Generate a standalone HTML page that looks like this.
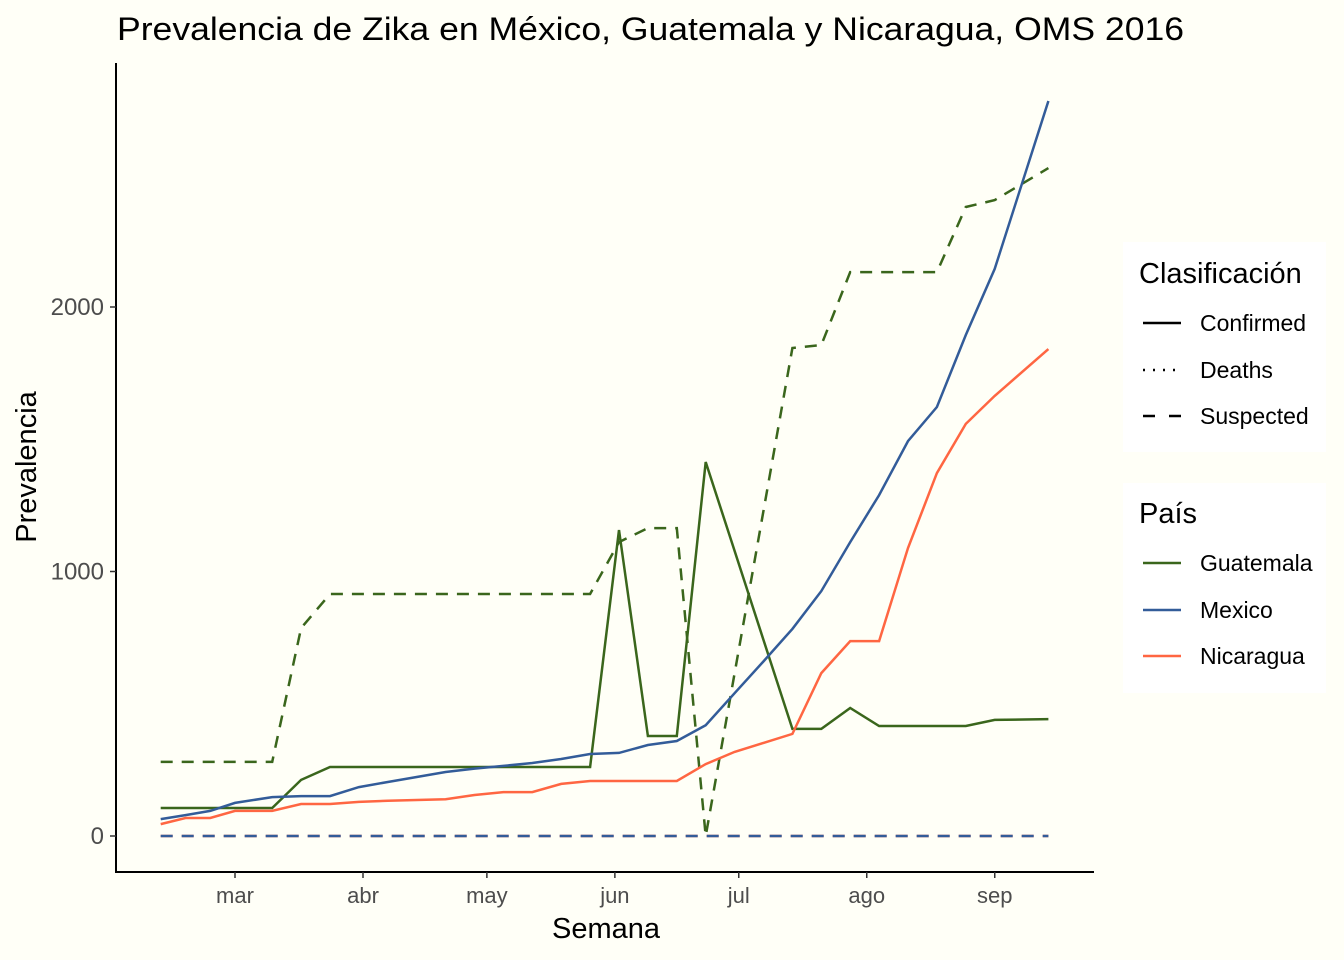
<!DOCTYPE html>
<html><head><meta charset="utf-8">
<style>
html,body{margin:0;padding:0;background:#fffff7;}
svg{display:block;font-family:"Liberation Sans",sans-serif;}
</style></head>
<body>
<svg id="chart" width="1344" height="960" viewBox="0 0 1344 960">
<rect width="1344" height="960" fill="#fffff7"/>
<text x="117" y="40" font-size="32" textLength="1067" lengthAdjust="spacingAndGlyphs" fill="#000">Prevalencia de Zika en México, Guatemala y Nicaragua, OMS 2016</text>
<g id="plot"></g>
<line x1="116" y1="63" x2="116" y2="873" stroke="#000" stroke-width="2"/>
<line x1="116" y1="872" x2="1094" y2="872" stroke="#000" stroke-width="2"/>
<g id="yticks"></g>
<g id="xticks"></g>
<text x="606" y="938" font-size="29" text-anchor="middle">Semana</text>
<text transform="translate(36,467) rotate(-90)" font-size="29" text-anchor="middle">Prevalencia</text>
<g>
<rect x="1123" y="242" width="203" height="210" fill="#ffffff"/>
<text x="1139" y="283" font-size="29">Clasificación</text>
<g><line x1="1143" y1="323" x2="1181" y2="323" stroke="#000" stroke-width="2.5"/><text x="1200" y="331" font-size="23">Confirmed</text></g>
<g><line x1="1143" y1="370" x2="1181" y2="370" stroke="#000" stroke-width="2.5" stroke-dasharray="2,8"/><text x="1200" y="378" font-size="23">Deaths</text></g>
<g><line x1="1143" y1="416" x2="1181" y2="416" stroke="#000" stroke-width="2.5" stroke-dasharray="12,14"/><text x="1200" y="424" font-size="23">Suspected</text></g>
</g>
<g>
<rect x="1123" y="483" width="203" height="210" fill="#ffffff"/>
<text x="1139" y="523" font-size="29">País</text>
<g><line x1="1143" y1="563" x2="1181" y2="563" stroke="#3a661c" stroke-width="2.5"/><text x="1200" y="571" font-size="23">Guatemala</text></g>
<g><line x1="1143" y1="610" x2="1181" y2="610" stroke="#335c99" stroke-width="2.5"/><text x="1200" y="618" font-size="23">Mexico</text></g>
<g><line x1="1143" y1="656" x2="1181" y2="656" stroke="#ff6642" stroke-width="2.5"/><text x="1200" y="664" font-size="23">Nicaragua</text></g>
</g>
</svg>
<script>
// days offset from 1 March 2016
const days = [-18,-12,-6,0,9,16,23,30,37,44,51,58,65,72,79,86,93,100,107,114,121,128,135,142,149,156,163,170,177,184,197];
const guatConfirmed = [106,106,106,106,106,212,261,261,261,261,261,261,261,261,261,261,1157,378,378,1414,1078,741,405,405,484,416,416,416,416,439,442];
const guatSuspected = [280,280,280,280,280,786,915,915,915,915,915,915,915,915,915,915,1111,1164,1164,0,615,1230,1845,1856,2132,2132,2132,2132,2378,2404,2525];
const mexConfirmed = [64,79,95,125,147,151,151,185,204,223,242,255,265,276,291,310,314,344,359,419,540,660,783,926,1111,1289,1493,1622,1894,2144,2779];
const nicConfirmed = [45,68,68,95,95,121,121,129,133,136,139,155,166,166,197,208,208,208,208,272,318,352,386,616,737,737,1089,1372,1558,1664,1841];
const zeros = days.map(() => 0);
const yTicks = [0,1000,2000];
const xTickLabels = ['mar','abr','may','jun','jul','ago','sep'];
const xTickDays = [0,31,61,92,122,153,184];

const NS = 'http://www.w3.org/2000/svg';
function xScale(d){ return 235 + d * 128 / 31; }
function yScale(v){ return 836 - v * 0.2645; }

const plot = document.getElementById('plot');
function drawLine(vals, color, dash, name){
  const p = document.createElementNS(NS,'polyline');
  p.setAttribute('points', days.map((d,i)=>xScale(d).toFixed(1)+','+yScale(vals[i]).toFixed(1)).join(' '));
  p.setAttribute('fill','none');
  p.setAttribute('stroke',color);
  p.setAttribute('stroke-width','2.5');
  if(dash) p.setAttribute('stroke-dasharray',dash);
  
  
  plot.appendChild(p);
}
drawLine(zeros,'#ff6642','12,9','line-nicaragua-suspected');
drawLine(zeros,'#335c99','12,9','line-mexico-suspected');
drawLine(guatSuspected,'#3a661c','12,9','line-guatemala-suspected');
drawLine(guatConfirmed,'#3a661c',null,'line-guatemala-confirmed');
drawLine(mexConfirmed,'#335c99',null,'line-mexico-confirmed');
drawLine(nicConfirmed,'#ff6642',null,'line-nicaragua-confirmed');

const yt = document.getElementById('yticks');
yTicks.forEach(v=>{
  const y = yScale(v);
  const l = document.createElementNS(NS,'line');
  l.setAttribute('x1',110); l.setAttribute('x2',116); l.setAttribute('y1',y); l.setAttribute('y2',y);
  l.setAttribute('stroke','#333'); l.setAttribute('stroke-width','1.5');
  
  
  yt.appendChild(l);
  const t = document.createElementNS(NS,'text');
  t.setAttribute('x',104); t.setAttribute('y',y+8);
  t.setAttribute('text-anchor','end'); t.setAttribute('font-size','24'); t.setAttribute('fill','#4d4d4d');
  t.textContent = v;
  
  
  yt.appendChild(t);
});
const xt = document.getElementById('xticks');
xTickDays.forEach((d,i)=>{
  const x = xScale(d);
  const l = document.createElementNS(NS,'line');
  l.setAttribute('x1',x); l.setAttribute('x2',x); l.setAttribute('y1',872); l.setAttribute('y2',878);
  l.setAttribute('stroke','#333'); l.setAttribute('stroke-width','1.5');
  
  
  xt.appendChild(l);
  const t = document.createElementNS(NS,'text');
  t.setAttribute('x',x); t.setAttribute('y',903);
  t.setAttribute('text-anchor','middle'); t.setAttribute('font-size','22'); t.setAttribute('fill','#4d4d4d');
  t.textContent = xTickLabels[i];
  
  
  xt.appendChild(t);
});
</script>
</body></html>
